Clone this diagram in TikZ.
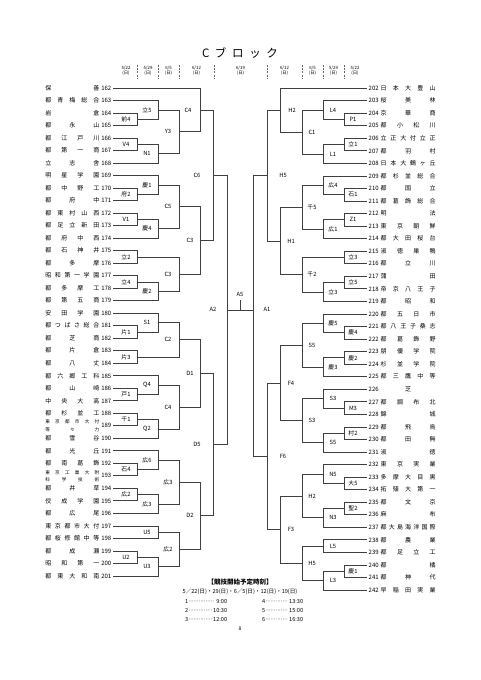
\documentclass[tikz,border=0pt]{standalone}
\usepackage{fontspec}
\setmainfont{Noto Sans CJK JP}
\usetikzlibrary{calc}
\newcommand\LT[2]{\node[lname] (t#1) at (113,{88+12.51*(#1-162)}) {\makebox[54pt][s]{#2}\hspace{2pt}#1};}
\newcommand\LTT[3]{\node[lname] (t#1) at (113,{88+12.51*(#1-162)}) {$\vcenter{\hbox{\fontsize{4.6}{5}\selectfont\makebox[54pt][s]{#2}}\kern0.6pt\hbox{\fontsize{4.6}{5}\selectfont\makebox[54pt][s]{#3}}}$\hspace{2pt}#1};}
\newcommand\RT[2]{\node[rname] (t#1) at (367,{88+12.55*(#1-202)}) {#1\hspace{2pt}\makebox[55pt][s]{#2}};}
\newcommand\LM[6][11]{%
  \draw[br] (#3) -- (#3 -| #5) -- (#4 -| #5) -- (#4);
  \coordinate (#2) at ($(#3 -| #5)!0.5!(#4 -| #5)$);
  \node[lab] (#2-l) at ([xshift=-#1pt]#2) {#6};}
\newcommand\RM[6][10]{%
  \draw[br] (#3) -- (#3 -| #5) -- (#4 -| #5) -- (#4);
  \coordinate (#2) at ($(#3 -| #5)!0.5!(#4 -| #5)$);
  \node[lab] (#2-l) at ([xshift=#1pt]#2) {#6};}
\newcommand\ldr{\leaders\hbox to 1.7pt{\hss·\hss}\hfill}
\begin{document}
\begin{tikzpicture}[x=1pt,y=-1pt,
  br/.style={draw=black!75,line width=0.7pt},
  lname/.style={anchor=east,inner xsep=1.5pt,inner ysep=0pt,font=\fontsize{6}{6.5}\selectfont},
  rname/.style={anchor=west,inner xsep=1.5pt,inner ysep=0pt,font=\fontsize{6}{6.5}\selectfont},
  lab/.style={inner sep=0pt,font=\fontsize{5.8}{6}\selectfont},
  datel/.style={inner sep=0pt,align=center,font=\fontsize{4.3}{5}\selectfont},
  sep/.style={draw=black!60,line width=0.4pt,dash pattern=on 2pt off 1.2pt},
  sch/.style={inner sep=0pt,font=\fontsize{5.6}{6}\selectfont}]
\fill[white] (0,0) rectangle (481,680);
\useasboundingbox (0,0) rectangle (481,680);
% title and header
\node[inner sep=0pt,font=\fontsize{11.5}{12}\selectfont] (title) at (240,53) {\makebox[76pt][s]{C ブ ロ ッ ク}};
\node[datel] (h1) at (126,71) {5/22\\(日)};
\node[datel] (h2) at (148,71) {5/29\\(日)};
\node[datel] (h3) at (168.5,71) {6/5\\(日)};
\node[datel] (h4) at (196.5,71) {6/12\\(日)};
\node[datel] (h5) at (240.5,71) {6/19\\(日)};
\node[datel] (h6) at (284.5,71) {6/12\\(日)};
\node[datel] (h7) at (312.5,71) {6/5\\(日)};
\node[datel] (h8) at (333.5,71) {5/29\\(日)};
\node[datel] (h9) at (355,71) {5/22\\(日)};
\foreach \xx in {137,158,179,214,267,302,323,344} \draw[sep] (\xx,65) -- (\xx,79);
% columns
\coordinate (c1) at (137,0); \coordinate (c2) at (158,0); \coordinate (c3) at (179,0);
\coordinate (c4) at (200,0); \coordinate (c5) at (213,0); \coordinate (c6) at (227,0);
\coordinate (d1) at (344,0); \coordinate (d2) at (323,0); \coordinate (d3) at (302,0);
\coordinate (d4) at (280,0); \coordinate (d5) at (267,0); \coordinate (d6) at (253,0);
% left teams
\LT{162}{保 善}
\LT{163}{都 青 梅 総 合}
\LT{164}{岩 倉}
\LT{165}{都 永 山}
\LT{166}{都 江 戸 川}
\LT{167}{都 第 一 商}
\LT{168}{立 志 舎}
\LT{169}{明 星 学 園}
\LT{170}{都 中 野 工}
\LT{171}{都 府 中}
\LT{172}{都 東 村 山 西}
\LT{173}{都 足 立 新 田}
\LT{174}{都 府 中 西}
\LT{175}{都 石 神 井}
\LT{176}{都 多 摩}
\LT{177}{昭 和 第 一 学 園}
\LT{178}{都 多 摩 工}
\LT{179}{都 第 五 商}
\LT{180}{安 田 学 園}
\LT{181}{都 つ ば さ 総 合}
\LT{182}{都 芝 商}
\LT{183}{都 片 倉}
\LT{184}{都 八 丈}
\LT{185}{都 六 郷 工 科}
\LT{186}{都 山 崎}
\LT{187}{中 央 大 高}
\LT{188}{都 杉 並 工}
\LTT{189}{東 京 都 市 大 付}{等 々 力}
\LT{190}{都 雪 谷}
\LT{191}{都 光 丘}
\LT{192}{都 南 葛 飾}
\LTT{193}{東 京 工 業 大 附}{科 学 技 術}
\LT{194}{都 井 草}
\LT{195}{佼 成 学 園}
\LT{196}{都 広 尾}
\LT{197}{東 京 都 市 大 付}
\LT{198}{都 桜 修 館 中 等}
\LT{199}{都 成 瀬}
\LT{200}{昭 和 第 一}
\LT{201}{都 東 大 和 南}
% right teams
\RT{202}{日 本 大 豊 山}
\RT{203}{桜 美 林}
\RT{204}{京 華 商}
\RT{205}{都 小 松 川}
\RT{206}{立 正 大 付 立 正}
\RT{207}{都 羽 村}
\RT{208}{日 本 大 鶴 ヶ 丘}
\RT{209}{都 杉 並 総 合}
\RT{210}{都 国 立}
\RT{211}{都 葛 飾 総 合}
\RT{212}{明 法}
\RT{213}{東 京 朝 鮮}
\RT{214}{都 大 田 桜 台}
\RT{215}{淑 徳 巣 鴨}
\RT{216}{都 立 川}
\RT{217}{蒲 田}
\RT{218}{帝 京 八 王 子}
\RT{219}{都 昭 和}
\RT{220}{都 五 日 市}
\RT{221}{都 八 王 子 桑 志}
\RT{222}{都 葛 飾 野}
\RT{223}{朋 優 学 院}
\RT{224}{杉 並 学 院}
\RT{225}{都 三 鷹 中 等}
\RT{226}{\hfil 芝\hfil}
\RT{227}{都 調 布 北}
\RT{228}{錦 城}
\RT{229}{都 飛 鳥}
\RT{230}{都 田 無}
\RT{231}{淑 徳}
\RT{232}{東 京 実 業}
\RT{233}{多 摩 大 目 黒}
\RT{234}{拓 殖 大 第 一}
\RT{235}{都 文 京}
\RT{236}{麻 布}
\RT{237}{都 大 島 海 洋 国 際}
\RT{238}{都 農 業}
\RT{239}{都 足 立 工}
\RT{240}{都 橘}
\RT{241}{都 神 代}
\RT{242}{早 稲 田 実 業}
% left bracket
\LM{m164}{t164.east}{t165.east}{c1}{前4}
\LM{m163}{t163.east}{m164}{c2}{立5}
\LM{m166}{t166.east}{t167.east}{c1}{V4}
\LM{m168}{m166}{t168.east}{c2}{N1}
\LM{mY3}{m163}{m168}{c3}{Y3}
\LM[12]{mC4a}{t162.east}{mY3}{c4}{C4}
\LM{m170}{t170.east}{t171.east}{c1}{府2}
\LM{m169}{t169.east}{m170}{c2}{慶1}
\LM{m172}{t172.east}{t173.east}{c1}{V1}
\LM{m174}{m172}{t174.east}{c2}{慶4}
\LM{mC5}{m169}{m174}{c3}{C5}
\LM{m175}{t175.east}{t176.east}{c1}{立2}
\LM{m177}{t177.east}{t178.east}{c1}{立4}
\LM{m179}{m177}{t179.east}{c2}{慶2}
\LM{mC3b}{m175}{m179}{c3}{C3}
\LM[10]{mC3a}{mC5}{mC3b}{c4}{C3}
\LM[16]{mC6}{mC4a}{mC3a}{c5}{C6}
\LM{m181}{t181.east}{t182.east}{c1}{片1}
\LM{m180}{t180.east}{m181}{c2}{S1}
\LM{m183}{t183.east}{t184.east}{c1}{片3}
\LM{mC2}{m180}{m183}{c3}{C2}
\LM{m186}{t186.east}{t187.east}{c1}{戸1}
\LM{m185}{t185.east}{m186}{c2}{Q4}
\LM{m188}{t188.east}{t189.east}{c1}{千1}
\LM{m190}{m188}{t190.east}{c2}{Q2}
\LM{mC4b}{m185}{m190}{c3}{C4}
\LM[10]{mD1}{mC2}{mC4b}{c4}{D1}
\LM{m192}{t192.east}{t193.east}{c1}{石4}
\LM{m191}{t191.east}{m192}{c2}{広6}
\LM{m194}{t194.east}{t195.east}{c1}{広2}
\LM{m196}{m194}{t196.east}{c2}{広3}
\LM{mK3}{m191}{m196}{c3}{広3}
\LM{m197}{t197.east}{t198.east}{c2}{U5}
\LM{m199}{t199.east}{t200.east}{c1}{U2}
\LM{m201}{m199}{t201.east}{c2}{U3}
\LM{mK2}{m197}{m201}{c3}{広2}
\LM[10]{mD2}{mK3}{mK2}{c4}{D2}
\LM[16]{mD5}{mD1}{mD2}{c5}{D5}
% right bracket
\RM[9]{n204}{t204.west}{t205.west}{d1}{P1}
\RM{n203}{t203.west}{n204}{d2}{L4}
\RM[9]{n206}{t206.west}{t207.west}{d1}{立1}
\RM{n208}{n206}{t208.west}{d2}{L1}
\RM{nC1}{n203}{n208}{d3}{C1}
\RM[12]{nH2a}{t202.west}{nC1}{d4}{H2}
\RM[9]{n210}{t210.west}{t211.west}{d1}{石1}
\RM{n209}{t209.west}{n210}{d2}{広4}
\RM[9]{n212}{t212.west}{t213.west}{d1}{Z1}
\RM{n214}{n212}{t214.west}{d2}{広1}
\RM{nS5a}{n209}{n214}{d3}{千5}
\RM[9]{n215}{t215.west}{t216.west}{d1}{立3}
\RM[9]{n217}{t217.west}{t218.west}{d1}{立5}
\RM{n219}{n217}{t219.west}{d2}{立3}
\RM{nT2}{n215}{n219}{d3}{千2}
\RM[11]{nH1}{nS5a}{nT2}{d4}{H1}
\RM[16]{nH5a}{nH2a}{nH1}{d5}{H5}
\RM[9]{n221}{t221.west}{t222.west}{d1}{慶4}
\RM{n220}{t220.west}{n221}{d2}{慶5}
\RM[9]{n223}{t223.west}{t224.west}{d1}{慶2}
\RM{n225}{n223}{t225.west}{d2}{慶3}
\RM{nS5b}{n220}{n225}{d3}{S5}
\RM[9]{n227}{t227.west}{t228.west}{d1}{M3}
\RM{n226}{t226.west}{n227}{d2}{S3}
\RM[9]{n229}{t229.west}{t230.west}{d1}{村2}
\RM{n231}{n229}{t231.west}{d2}{S5}
\RM{nS3}{n226}{n231}{d3}{S3}
\RM[11]{nF4}{nS5b}{nS3}{d4}{F4}
\RM[9]{n233}{t233.west}{t234.west}{d1}{大5}
\RM{n232}{t232.west}{n233}{d2}{N5}
\RM[9]{n235}{t235.west}{t236.west}{d1}{聖2}
\RM{n237}{n235}{t237.west}{d2}{N3}
\RM{nH2b}{n232}{n237}{d3}{H2}
\RM{n238}{t238.west}{t239.west}{d2}{L5}
\RM[9]{n240}{t240.west}{t241.west}{d1}{慶1}
\RM{n242}{n240}{t242.west}{d2}{L3}
\RM{nH5b}{n238}{n242}{d3}{H5}
\RM[11]{nF3}{nH2b}{nH5b}{d4}{F3}
\RM[16]{nF6}{nF4}{nF3}{d5}{F6}
% final
\draw[br] (mC6) -- (mC6 -| c6) -- (mD5 -| c6) -- (mD5);
\coordinate (mA2) at ($(mC6 -| c6)!0.5!(mD5 -| c6)$);
\node[lab] (mA2-l) at ([xshift=-14pt]mA2) {A2};
\draw[br] (nH5a) -- (nH5a -| d6) -- (nF6 -| d6) -- (nF6);
\coordinate (nA1) at (mA2 -| d6);
\node[lab] (nA1-l) at ([xshift=14pt]nA1) {A1};
\draw[br] (mA2) -- (nA1);
\coordinate (fin) at ($(mA2)!0.5!(nA1)$);
\coordinate (finTop) at ([yshift=10pt]fin);
\draw[br] (fin) -- (finTop);
\node[lab,anchor=south] (A5) at ([yshift=3pt]finTop) {A5};
% schedule
\node[inner sep=0pt,font=\fontsize{6.5}{7}\selectfont\bfseries] (schT) at (240,582) {【競技開始予定時刻】};
\node[sch] (schD) at (240,592) {5／22(日)・29(日)・6／5(日)・12(日)・19(日)};
\node[sch,anchor=west] (s1) at (185,601) {\makebox[42pt]{1\ldr\ 9:00}};
\node[sch,anchor=west] (s2) at (185,610) {\makebox[42pt]{2\ldr 10:30}};
\node[sch,anchor=west] (s3) at (185,619) {\makebox[42pt]{3\ldr 12:00}};
\node[sch,anchor=west] (s4) at (262,601) {\makebox[41pt]{4\ldr 13:30}};
\node[sch,anchor=west] (s5) at (262,610) {\makebox[41pt]{5\ldr 15:00}};
\node[sch,anchor=west] (s6) at (262,619) {\makebox[41pt]{6\ldr 16:30}};
\node[inner sep=0pt,font=\fontsize{5}{6}\selectfont] (pg) at (240,629) {8};
\end{tikzpicture}
\end{document}
